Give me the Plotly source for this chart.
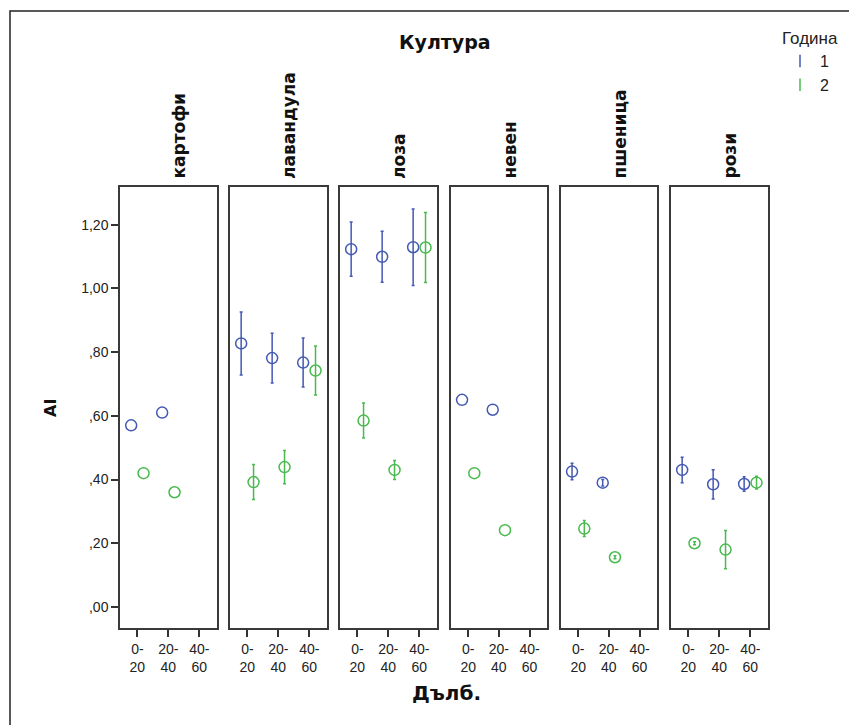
import plotly.graph_objects as go

W, H = 849, 725

# ---------------- data ----------------
crops = ["картофи", "лавандула", "лоза", "невен", "пшеница", "рози"]
depths = ["0-20", "20-40", "40-60"]
depth_labels = ["0-<br>20", "20-<br>40", "40-<br>60"]
years = ["1", "2"]

# year 1 means (None = no data)
mean_y1 = {
    "картофи":   [0.57, 0.61, None],
    "лавандула": [0.827, 0.781, 0.767],
    "лоза":      [1.123, 1.099, 1.129],
    "невен":     [0.65, 0.619, None],
    "пшеница":   [0.425, 0.39, None],
    "рози":      [0.43, 0.385, 0.386],
}
err_y1 = {
    "картофи":   None,
    "лавандула": [0.099, 0.078, 0.077],
    "лоза":      [0.085, 0.080, 0.120],
    "невен":     None,
    "пшеница":   [0.026, 0.010, 0],
    "рози":      [0.040, 0.046, 0.023],
}
mean_y2 = {
    "картофи":   [0.42, 0.36, None],
    "лавандула": [0.392, 0.439, 0.742],
    "лоза":      [0.585, 0.43, 1.128],
    "невен":     [0.42, 0.241, None],
    "пшеница":   [0.246, 0.156, None],
    "рози":      [0.20, 0.18, 0.39],
}
err_y2 = {
    "картофи":   None,
    "лавандула": [0.055, 0.052, 0.077],
    "лоза":      [0.055, 0.030, 0.110],
    "невен":     None,
    "пшеница":   [0.025, 0.005, 0],
    "рози":      [0.005, 0.060, 0.020],
}
y_ticks = [0.0, 0.2, 0.4, 0.6, 0.8, 1.0, 1.2]
y_tick_text = [",00", ",20", ",40", ",60", ",80", "1,00", "1,20"]

# ---------------- style ----------------
BLUE = "#4459b3"
GREEN = "#49ba4e"
FONT = "Liberation Sans, Arial, sans-serif"
BOLD = "DejaVu Sans, Verdana, sans-serif"
DODGE = 0.2
panels_px = [(120, 217), (230, 327), (340, 437), (451, 547), (561, 657), (671, 768)]
top_px, bot_px = 187, 628

def px(x):
    return x / W

def py(y):
    return 1 - y / H

fig = go.Figure()
layout = dict(
    width=W, height=H,
    margin=dict(l=0, r=0, t=0, b=0),
    paper_bgcolor="white", plot_bgcolor="white",
    font=dict(family=FONT, size=14, color="#222"),
    showlegend=True,
)

annotations = []
for i, crop in enumerate(crops):
    xa = "x" if i == 0 else f"x{i+1}"
    ya = "y" if i == 0 else f"y{i+1}"
    xkey = "xaxis" if i == 0 else f"xaxis{i+1}"
    ykey = "yaxis" if i == 0 else f"yaxis{i+1}"
    l, r = panels_px[i]
    layout[xkey] = dict(
        domain=[px(l), px(r)], anchor=ya, range=[-0.56, 2.57],
        tickmode="array", tickvals=list(range(len(depths))), ticktext=depth_labels,
        ticks="outside", ticklen=7, tickcolor="#333", tickwidth=1.5,
        showline=True, linecolor="#3a3a3a", linewidth=1.5, mirror=True,
        showgrid=False, zeroline=False, fixedrange=True,
        tickfont=dict(size=14, color="#222"),
    )
    layout[ykey] = dict(
        domain=[py(bot_px), py(top_px)], anchor=xa, range=[-0.066, 1.318],
        tickmode="array", tickvals=y_ticks, ticktext=y_tick_text,
        ticks="outside" if i == 0 else "", ticklen=7, tickcolor="#333", tickwidth=1.5,
        showticklabels=(i == 0),
        showline=True, linecolor="#3a3a3a", linewidth=1.5, mirror=True,
        showgrid=False, zeroline=False, fixedrange=True,
        tickfont=dict(size=14, color="#222"),
    )

    for yr, means, errs, color, sign in (
        ("1", mean_y1, err_y1, BLUE, -1),
        ("2", mean_y2, err_y2, GREEN, +1),
    ):
        xs, ys, es = [], [], []
        for j, d in enumerate(depths):
            v = means[crop][j]
            if v is None:
                continue
            xs.append(j + sign * DODGE)
            ys.append(v)
            if errs[crop] is not None:
                es.append(errs[crop][j])
        tr = dict(
            x=xs, y=ys, xaxis=xa, yaxis=ya, mode="markers",
            marker=dict(symbol="circle-open", size=11, color=color,
                        line=dict(width=1.5, color=color)),
            showlegend=False, hoverinfo="x+y",
        )
        if errs[crop] is not None:
            tr["error_y"] = dict(type="data", array=es, visible=True,
                                 color=color, thickness=1.5, width=1.5)
        fig.add_trace(go.Scatter(**tr))

    annotations.append(dict(
        text=f"<b>{crop}</b>", textangle=-90, xref="paper", yref="paper",
        x=px((l + r) / 2 + 10), y=py(top_px - 6), xanchor="center", yanchor="bottom",
        showarrow=False, font=dict(size=17, color="#111", family=BOLD),
    ))

# legend entries
for yr, color in zip(years, (BLUE, GREEN)):
    fig.add_trace(go.Scatter(
        x=[None], y=[None], mode="markers", name=yr,
        marker=dict(symbol="line-ns-open", size=9, color=color,
                    line=dict(width=1.5, color=color)),
        showlegend=True,
    ))

annotations += [
    dict(text="<b>Култура</b>", xref="paper", yref="paper", x=px(445), y=py(42),
         xanchor="center", yanchor="middle", showarrow=False,
         font=dict(size=19, color="#111", family=BOLD)),
    dict(text="<b>Дълб.</b>", xref="paper", yref="paper", x=px(447), y=py(693),
         xanchor="center", yanchor="middle", showarrow=False,
         font=dict(size=20, color="#111", family=BOLD)),
    dict(text="<b>AI</b>", textangle=-90, xref="paper", yref="paper", x=px(50), y=py(408),
         xanchor="center", yanchor="middle", showarrow=False,
         font=dict(size=16, color="#111", family=BOLD)),
]
layout["annotations"] = annotations
layout["legend"] = dict(
    x=px(780), y=py(22), xanchor="left", yanchor="top",
    title=dict(text="Година", font=dict(size=17, color="#222")),
    font=dict(size=16, color="#222"), bgcolor="rgba(0,0,0,0)",
    itemwidth=30, tracegroupgap=0,
)
layout["shapes"] = [dict(
    type="rect", xref="paper", yref="paper",
    x0=px(10), x1=px(W + 20), y0=py(H + 20), y1=py(11),
    line=dict(color="#222", width=1.5), fillcolor="rgba(0,0,0,0)",
)]
fig.update_layout(**layout)
fig.write_html("out.html", config={"displayModeBar": False},
               post_script="document.body.style.margin='0px';")
